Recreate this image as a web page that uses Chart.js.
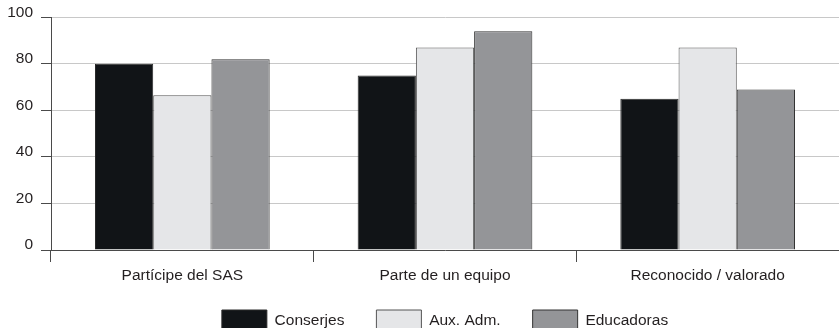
<!DOCTYPE html>
<html>
<head>
<meta charset="utf-8">
<script src="https://cdn.jsdelivr.net/npm/chart.js@4"></script>
<style>
    html, body { margin: 0; padding: 0; background: #ffffff; }
    #contenedor { width: 839px; height: 335px; position: relative; }
</style>
</head>
<body>
<div id="contenedor"><canvas id="grafico"></canvas></div>
<script>
const categorias = ['Partícipe del SAS', 'Parte de un equipo', 'Reconocido / valorado'];
const conserjes = [80, 75, 65];
const auxAdm = [66.5, 87, 87];
const educadoras = [82, 94, 69];
const ticksY = [0, 20, 40, 60, 80, 100];

const colorTexto = '#231f20';
const colorEje = '#4a4a4a';
const fuente = { family: "'Liberation Sans', Arial, Helvetica, sans-serif", size: 15.5 };

// la leyenda queda un poco mas arriba que su caja (el eje x necesita su alto para las etiquetas)
const subirLeyenda = {
    id: 'subirLeyenda',
    afterLayout: function (chart) {
        chart.legend.top -= 7;
        chart.legend.bottom -= 7;
    }
};

const ctx = document.getElementById('grafico');

new Chart(ctx, {
    type: 'bar',
    data: {
        labels: categorias,
        datasets: [
            {
                label: 'Conserjes',
                data: conserjes,
                backgroundColor: '#111417',
                borderColor: '#2a2a2a',
                borderWidth: 1
            },
            {
                label: 'Aux. Adm.',
                data: auxAdm,
                backgroundColor: '#e5e6e8',
                borderColor: '#555555',
                borderWidth: 1
            },
            {
                label: 'Educadoras',
                data: educadoras,
                backgroundColor: '#949598',
                borderColor: '#333333',
                borderWidth: 1
            }
        ]
    },
    options: {
        responsive: true,
        maintainAspectRatio: false,
        animation: false,
        layout: {
            padding: { top: 16, right: 0, bottom: 0, left: 0 }
        },
        datasets: {
            bar: {
                barPercentage: 1,
                categoryPercentage: 0.665
            }
        },
        scales: {
            x: {
                offset: true,
                grid: {
                    display: true,
                    offset: true,
                    drawOnChartArea: false,
                    tickLength: 12,
                    tickColor: colorEje
                },
                border: { color: colorEje, width: 1 },
                ticks: {
                    color: colorTexto,
                    font: fuente,
                    padding: 4,
                    maxRotation: 0
                },
                afterFit: function (escala) {
                    escala.height = 35;
                }
            },
            y: {
                min: 0,
                max: 100,
                afterBuildTicks: function (escala) {
                    escala.ticks = ticksY.map(function (v) { return { value: v }; });
                },
                grid: {
                    color: '#c8c8c8',
                    lineWidth: 1,
                    tickLength: 10,
                    tickColor: colorEje
                },
                border: { color: colorEje, width: 1 },
                ticks: {
                    color: colorTexto,
                    font: fuente,
                    padding: 8,
                    labelOffset: -5
                },
                afterFit: function (escala) {
                    escala.width = 51;
                }
            }
        },
        plugins: {
            legend: {
                position: 'bottom',
                fullSize: false,
                maxHeight: 50,
                labels: {
                    boxWidth: 45,
                    boxHeight: 22,
                    padding: 32,
                    color: colorTexto,
                    font: fuente
                }
            },
            tooltip: { enabled: false }
        }
    },
    plugins: [subirLeyenda]
});
</script>
</body>
</html>
